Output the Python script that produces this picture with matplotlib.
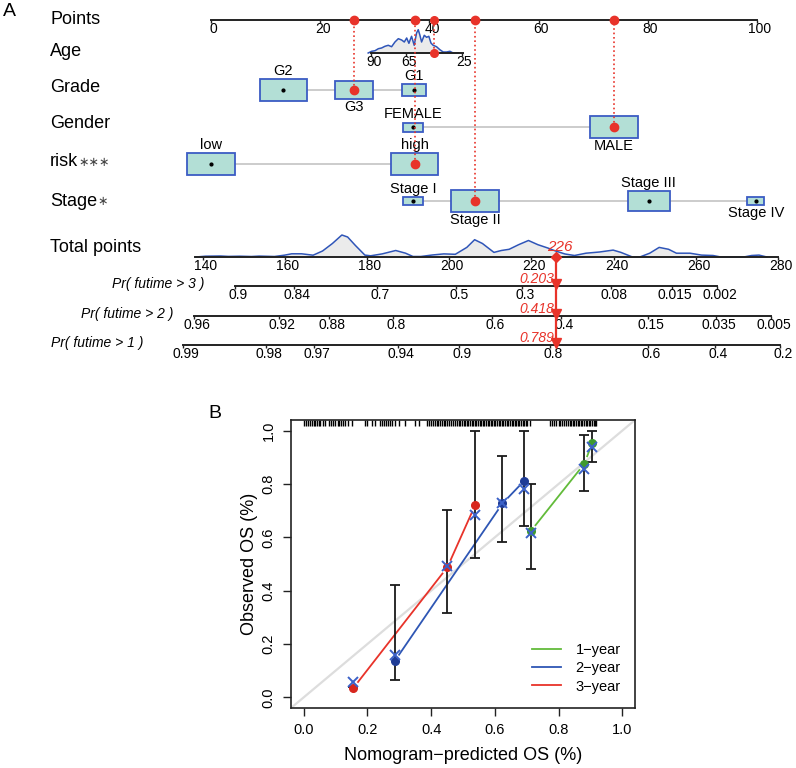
import numpy as np
import matplotlib.pyplot as plt
from matplotlib.patches import Rectangle
from matplotlib.lines import Line2D

plt.rcParams['font.family'] = ['Liberation Sans', 'DejaVu Sans']

# ---------------- A: nomogram data ----------------
points_ticks = [0, 20, 40, 60, 80, 100]

age_ticks = [90, 65, 25]
age_tick_pts = [29.3, 35.7, 45.9]
age_span = [90, 24]
age_grid = [92, 89.5, 87.1, 84.7, 82.4, 80, 77.6, 75.2, 72.8, 70.4, 68, 66.1, 64.4,
            62.8, 60.9, 59, 57.3, 56.1, 54.9, 53.7, 51.8, 50.1, 48.5, 47, 45.4, 43,
            40.6, 38.2, 35.8, 33.4, 31.1, 27.5]
age_dens = [0, 1.7, 2.3, 4.3, 5, 6.7, 7.7, 6.3, 11, 14.3, 13, 11, 15, 9.7, 16.7, 7.7,
            20, 23.3, 17.7, 11, 17.7, 15.7, 16.7, 10, 7.7, 6.3, 3.3, 1, 1, 1.7, 0, 0]
age_pick = 45

grade_levels = ['G2', 'G3', 'G1']
grade_pts = [13.2, 26.2, 37.2]
grade_w = [8.6, 7.1, 4.4]
grade_h = [22, 18, 12]

gender_levels = ['FEMALE', 'MALE']
gender_pts = [37.0, 73.8]
gender_w = [3.5, 8.8]
gender_h = [9, 22]

risk_levels = ['low', 'high']
risk_pts = [0.0, 37.3]
risk_w = [8.8, 8.6]
risk_h = [22, 22]

stage_levels = ['Stage I', 'Stage II', 'Stage III', 'Stage IV']
stage_pts = [37.0, 48.4, 80.2, 99.8]
stage_w = [3.5, 8.8, 7.7, 3.1]
stage_h = [8, 22, 20, 8]

picked = {'Grade': 'G3', 'Gender': 'MALE', 'risk': 'high', 'Stage': 'Stage II'}

total_ticks = [140, 160, 180, 200, 220, 240, 260, 280]
total_span = [138.2, 280.0]
tot_grid = [138.4, 140.7, 144.4, 146.3, 149.1, 151.9, 153.8, 157.5, 159.9, 161.7, 164.1,
            166.9, 169.2, 171.6, 173.9, 175.3, 177.2, 179.5, 180.9, 183.7, 187.0, 189.4,
            191.2, 193.1, 195.9, 198.7, 201.5, 204.3, 206.2, 208.1, 210.9, 212.7, 214.6,
            216.9, 219.3, 221.6, 224.0, 225.9, 228.2, 230.5, 233.3, 236.6, 239.9, 241.8,
            244.6, 246.4, 248.8, 251.1, 253.4, 255.3, 258.6, 261.4, 264.2, 266.1, 271.7,
            273.6, 275.4, 277.3]
tot_dens = [0, 0.8, 1.0, 0.6, 0.8, 0.5, 0.9, 0.5, 1.8, 3.2, 3.2, 1.8, 6, 13.5, 22, 20,
            11.5, 1.9, 1.2, 3.1, 6.5, 3.8, 0.5, 0.5, 2, 3.1, 2.7, 9.6, 17.3, 13.5, 4.6,
            6.5, 7.7, 12.3, 16.5, 12.3, 9, 6, 3, 1.5, 3.8, 5, 6.9, 4.6, 0, 0, 3.8, 9.6,
            7.7, 3.8, 3.8, 1.9, 1.5, 0, 0, 1.5, 1.9, 0]
total_score = 226

pr3_labels = ['0.9', '0.84', '0.7', '0.5', '0.3', '0.08', '0.015', '0.002']
pr3_at = [147.9, 162.3, 182.4, 201.7, 217.7, 239.4, 254.2, 265.2]
pr2_labels = ['0.96', '0.92', '0.88', '0.8', '0.6', '0.4', '0.15', '0.035', '0.005']
pr2_at = [137.9, 158.6, 170.8, 186.3, 210.4, 227.2, 248.4, 264.9, 278.3]
pr1_labels = ['0.99', '0.98', '0.97', '0.94', '0.9', '0.8', '0.6', '0.4', '0.2']
pr1_at = [135.2, 155.4, 167.1, 187.6, 202.4, 224.5, 248.4, 264.7, 280.5]
pr_pick = ['0.203', '0.418', '0.789']

# ---------------- B: calibration data ----------------
cal_1y_pred = [0.712, 0.881, 0.906]
cal_1y_obs = [0.622, 0.876, 0.955]
cal_1y_corr = [0.618, 0.858, 0.940]
cal_1y_lo = [0.483, 0.775, 0.884]
cal_1y_hi = [0.801, 0.985, 1.000]

cal_2y_pred = [0.285, 0.624, 0.693]
cal_2y_obs = [0.135, 0.727, 0.813]
cal_2y_corr = [0.157, 0.727, 0.783]
cal_2y_lo = [0.064, 0.584, 0.644]
cal_2y_hi = [0.420, 0.906, 1.000]

cal_3y_pred = [0.155, 0.451, 0.539]
cal_3y_obs = [0.034, 0.488, 0.723]
cal_3y_corr = [0.056, 0.494, 0.682]
cal_3y_lo = [0.040, 0.315, 0.521]
cal_3y_hi = [0.040, 0.704, 1.000]

rug_pred = [0.000, 0.008, 0.013, 0.019, 0.025, 0.031, 0.036, 0.042, 0.047, 0.052, 0.060,
            0.068, 0.080, 0.087, 0.093, 0.099, 0.106, 0.112, 0.118, 0.124, 0.131, 0.139,
            0.151, 0.192, 0.200, 0.215, 0.224, 0.240, 0.247, 0.253, 0.259, 0.265, 0.271,
            0.278, 0.287, 0.300, 0.318, 0.349, 0.362, 0.387, 0.394, 0.400, 0.405, 0.411,
            0.417, 0.422, 0.428, 0.433, 0.440, 0.445, 0.451, 0.456, 0.462, 0.468, 0.474,
            0.480, 0.486, 0.492, 0.497, 0.502, 0.507, 0.512, 0.517, 0.522, 0.527, 0.532,
            0.537, 0.542, 0.547, 0.552, 0.558, 0.563, 0.567, 0.572, 0.577, 0.582, 0.587,
            0.592, 0.597, 0.602, 0.608, 0.613, 0.617, 0.622, 0.627, 0.632, 0.637, 0.642,
            0.648, 0.653, 0.657, 0.662, 0.667, 0.672, 0.677, 0.682, 0.687, 0.692, 0.697,
            0.702, 0.709, 0.772, 0.780, 0.787, 0.793, 0.800, 0.806, 0.812, 0.818, 0.824,
            0.830, 0.835, 0.840, 0.845, 0.850, 0.855, 0.860, 0.865, 0.870, 0.875, 0.880,
            0.885, 0.890, 0.895, 0.900, 0.905, 0.910, 0.915, 0.919]

# colours
AXC = '#222222'
BOX_FC = '#B3DFD6'
BOX_EC = '#3B5CC4'
RED = '#E8332A'
DENS_LC = '#2F55B8'
DENS_FC = '#EBEBEB'

fig = plt.figure(figsize=(7.96, 7.68), dpi=100)

# ---------------- panel A ----------------
ax = fig.add_axes([0, 1 - 380 / 768, 1, 380 / 768])
PX = 5.46   # pixels per point on the Points scale
X0 = 211    # pixel column of 0 points
ax.set_xlim(-X0 / PX, (796 - X0) / PX)
ax.set_ylim(380, 0)
ax.axis('off')


def px(x):
    return (x - X0) / PX


def tot2pts(t):
    return px(556) + (np.asarray(t, float) - total_score) * 4.11 / PX


def age2pts(a):
    slope = (age_tick_pts[-1] - age_tick_pts[0]) / (age_ticks[-1] - age_ticks[0])
    return age_tick_pts[0] + (np.asarray(a, float) - age_ticks[0]) * slope


ax.text(px(9), 12, 'A', fontsize=14, ha='center', va='center')

rows = [('Points', 20), ('Age', 51), ('Grade', 87), ('Gender', 124),
        ('risk', 162), ('Stage', 201), ('Total points', 247)]
stars = {'risk': '\u2217\u2217\u2217', 'Stage': '\u2217'}
for name, y in rows:
    t = ax.text(px(50), y, name, fontsize=13, ha='left', va='center')
    if name in stars:
        ax.annotate(stars[name], xy=(1, 0.45), xycoords=t, xytext=(0, 0),
                    textcoords='offset points', fontsize=9, color='#444444',
                    family='DejaVu Sans', ha='left', va='center')

# Points axis
Y_PTS = 20
ax.plot([points_ticks[0], points_ticks[-1]], [Y_PTS, Y_PTS], color=AXC, lw=1.4)
ax.vlines(points_ticks, Y_PTS, Y_PTS + 2.5, color=AXC, lw=1)
for t in points_ticks:
    ax.text(t + 0.5, 29, str(t), ha='center', va='center', fontsize=10)

# Age
Y_AGE = 53
ax.fill_between(age2pts(age_grid), Y_AGE, Y_AGE - np.array(age_dens), color=DENS_FC, lw=0)
ax.plot(age2pts(age_grid), Y_AGE - np.array(age_dens), color=DENS_LC, lw=1.1)
ax.plot(age2pts(age_span), [Y_AGE, Y_AGE], color=AXC, lw=1.4)
ax.vlines(age2pts(age_ticks), Y_AGE, Y_AGE + 2.5, color=AXC, lw=1)
for t in age_ticks:
    ax.text(age2pts(t) + 0.5, 61.5, str(t), ha='center', va='center', fontsize=10)
xa = age2pts(age_pick)
ax.plot([xa, xa], [Y_AGE, Y_PTS], color=RED, lw=1.2, ls=':', zorder=4)
ax.plot([xa, xa], [Y_AGE, Y_PTS], 'o', color=RED, ms=5.5, zorder=6)


def draw_cat(levels, pts, ws, hs, y, pick, where):
    ax.plot([min(pts), max(pts)], [y, y], color='#C4C4C4', lw=1.2, zorder=1)
    for lev, p, w, h, pos in zip(levels, pts, ws, hs, where):
        ax.add_patch(Rectangle((p - w / 2, y - h / 2), w, h, fc=BOX_FC, ec=BOX_EC,
                               lw=1.3, zorder=2))
        if lev == pick:
            ax.plot([p, p], [y, Y_PTS], color=RED, lw=1.2, ls=':', zorder=4)
            ax.plot([p, p], [y, Y_PTS], 'o', color=RED, ms=6, zorder=6)
        else:
            ax.plot(p, y, 'o', color='black', ms=2, zorder=3)
        ly = y - h / 2 - 8 if pos == 'above' else y + h / 2 + 8
        ax.text(p, ly, lev, ha='center', va='center', fontsize=10.5)


draw_cat(grade_levels, grade_pts, grade_w, grade_h, 90, picked['Grade'],
         ['above', 'below', 'above'])
draw_cat(gender_levels, gender_pts, gender_w, gender_h, 127, picked['Gender'],
         ['above', 'below'])
draw_cat(risk_levels, risk_pts, risk_w, risk_h, 164, picked['risk'],
         ['above', 'above'])
draw_cat(stage_levels, stage_pts, stage_w, stage_h, 201, picked['Stage'],
         ['above', 'below', 'above', 'below'])

# Total points
Y_TOT = 257
ax.fill_between(tot2pts(tot_grid), Y_TOT, Y_TOT - np.array(tot_dens), color=DENS_FC, lw=0)
ax.plot(tot2pts(tot_grid), Y_TOT - np.array(tot_dens), color=DENS_LC, lw=1.1)
ax.plot(tot2pts(total_span), [Y_TOT, Y_TOT], color=AXC, lw=1.4)
ax.vlines(tot2pts(total_ticks), Y_TOT, Y_TOT + 2.5, color=AXC, lw=1)
for t in total_ticks:
    ax.text(tot2pts(t) + 0.55, 265.5, str(t), ha='center', va='center', fontsize=10)

# probability axes
pr_rows = [(pr3_labels, pr3_at, 286, 'Pr( futime > 3 )', 204, 284),
           (pr2_labels, pr2_at, 316, 'Pr( futime > 2 )', 173, 314),
           (pr1_labels, pr1_at, 345, 'Pr( futime > 1 )', 143, 343)]
for labs, at, y, title, tx, ty in pr_rows:
    ax.plot(tot2pts([at[0], at[-1]]), [y, y], color=AXC, lw=1.4)
    ax.vlines(tot2pts(at), y, y + 2.5, color=AXC, lw=1)
    for lab, a in zip(labs, at):
        ax.text(tot2pts(a) + 0.55, y + 9, lab, ha='center', va='center', fontsize=10)
    ax.text(px(tx), ty, title, ha='right', va='center', fontsize=10, style='italic')

xs = tot2pts(total_score)
ax.plot([xs, xs], [Y_TOT, pr_rows[-1][2]], color=RED, lw=1.6, zorder=5)
ax.plot(xs, Y_TOT, 'D', color=RED, ms=5.5, zorder=6)
ax.text(xs + 0.75, 247, str(total_score), color=RED, fontsize=11, style='italic',
        ha='center', va='center')
for (labs, at, y, title, tx, ty), lab in zip(pr_rows, pr_pick):
    ax.plot(xs, y - 2.5, 'v', color=RED, ms=7, zorder=6)
    ax.text(xs - 0.3, y - 7.5, lab, color=RED, fontsize=10, style='italic',
            ha='right', va='center')

# ---------------- panel B ----------------
axb = fig.add_axes([291 / 796, 60 / 768, 344 / 796, 288 / 768])
axb.set_xlim(-0.04, 1.04)
axb.set_ylim(-0.04, 1.04)
fig.text(215 / 796, 1 - 413 / 768, 'B', fontsize=14, ha='center', va='center')

axb.plot([-0.04, 1.04], [-0.04, 1.04], color='#DDDDDD', lw=1.6, zorder=1)
axb.vlines(rug_pred, 1.04 - 6 / 266.6, 1.04, color='black', lw=1.0, zorder=2)


def gapped(xv, yv, gap, **kw):
    pts = axb.transData.transform(np.column_stack([xv, yv]))
    inv = axb.transData.inverted()
    for a, b in zip(pts[:-1], pts[1:]):
        d = b - a
        u = d / np.hypot(*d)
        seg = inv.transform(np.array([a + u * gap, b - u * gap]))
        axb.plot(seg[:, 0], seg[:, 1], **kw)


series = [('1\u2212year', '#62BB3A', '#3E9A2E', cal_1y_pred, cal_1y_obs, cal_1y_corr, cal_1y_lo, cal_1y_hi),
          ('2\u2212year', '#2E56B4', '#1F3C96', cal_2y_pred, cal_2y_obs, cal_2y_corr, cal_2y_lo, cal_2y_hi),
          ('3\u2212year', '#E8332A', '#D7261E', cal_3y_pred, cal_3y_obs, cal_3y_corr, cal_3y_lo, cal_3y_hi)]
handles = []
for lab, lc, dc, pr, ob, co, lo, hi in series:
    gapped(pr, ob, 8, color=lc, lw=1.3, zorder=3)
    axb.vlines(pr, lo, hi, color='#1a1a1a', lw=1.3, zorder=4)
    axb.plot(pr, lo, '_', color='#1a1a1a', ms=7, mew=1.3, zorder=4)
    axb.plot(pr, hi, '_', color='#1a1a1a', ms=7, mew=1.3, zorder=4)
    axb.plot(pr, ob, 'o', color=dc, ms=5.5, zorder=5)
    axb.plot(pr, co, 'x', color='#3C62C8', ms=6.5, mew=1.4, zorder=6)
    handles.append(Line2D([], [], color=lc, lw=1.3, label=lab))

axb.legend(handles=handles, loc='lower right', bbox_to_anchor=(0.975, 0.03),
           frameon=False, fontsize=10.5, handlelength=2.0, handletextpad=1.0,
           labelspacing=0.3, borderaxespad=0)

ticks = [0.0, 0.2, 0.4, 0.6, 0.8, 1.0]
axb.set_xticks(ticks)
axb.set_xticklabels(['%.1f' % t for t in ticks])
axb.set_yticks(ticks)
axb.set_yticklabels(['%.1f' % t for t in ticks], rotation=90, va='center')
axb.tick_params(direction='out', length=6, width=1, labelsize=10.5, pad=5, color=AXC)
for s in axb.spines.values():
    s.set_linewidth(1.2)
    s.set_color(AXC)
axb.set_xlabel('Nomogram\u2212predicted OS (%)', fontsize=13)
axb.xaxis.set_label_coords(0.5, (708 - 755) / 288)
axb.xaxis.label.set_va('center')
axb.set_ylabel('Observed OS (%)', fontsize=13)
axb.yaxis.set_label_coords((250 - 291) / 344, 0.5)
axb.yaxis.label.set_va('center')

fig.savefig('out.png', dpi=100)
